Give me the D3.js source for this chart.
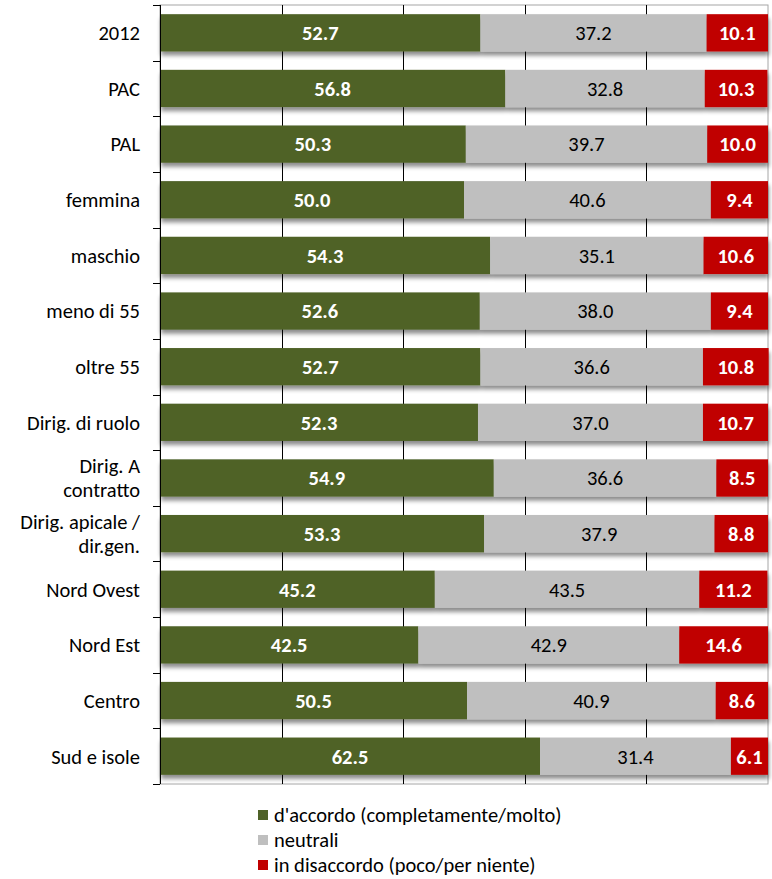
<!DOCTYPE html>
<html><head><meta charset="utf-8">
<script src="https://cdn.jsdelivr.net/npm/d3@7"></script>
<style>
body{margin:0;background:#fff;}
text{font-family:Carlito,Lato,"Open Sans",sans-serif;}
</style></head><body>
<svg id="c" width="772" height="879"></svg>
<script>
const categories = ["2012","PAC","PAL","femmina","maschio","meno di 55","oltre 55","Dirig. di ruolo","Dirig. A|contratto","Dirig. apicale /|dir.gen.","Nord Ovest","Nord Est","Centro","Sud e isole"];
const accordo   = [52.7,56.8,50.3,50.0,54.3,52.6,52.7,52.3,54.9,53.3,45.2,42.5,50.5,62.5];
const neutrali  = [37.2,32.8,39.7,40.6,35.1,38.0,36.6,37.0,36.6,37.9,43.5,42.9,40.9,31.4];
const disaccordo= [10.1,10.3,10.0,9.4,10.6,9.4,10.8,10.7,8.5,8.8,11.2,14.6,8.6,6.1];
const seriesNames = ["d'accordo (completamente/molto)","neutrali","in disaccordo (poco/per niente)"];
const colors = ["#4F6228","#BFBFBF","#C00000"];
const labelColors = ["#fff","#000","#fff"];
const labelWeights = ["bold","normal","bold"];
const xTicks = [0,20,40,60,80,100];

const svg = d3.select("#c");
const m = {l:160,r:4,t:5,b:95};
const W = 772, H = 879;
const FS = 20.5;
const x = d3.scaleLinear().domain([0,100]).range([m.l, W-m.r]);
const y = d3.scaleBand().domain(categories).range([m.t, H-m.b]).paddingInner(0.33).paddingOuter(0.165);

const defs = svg.append("defs");
const f = defs.append("filter").attr("id","sh").attr("x","-5%").attr("y","-30%").attr("width","110%").attr("height","180%");
f.append("feDropShadow").attr("dx",1).attr("dy",4).attr("stdDeviation",2.2).attr("flood-color","#000").attr("flood-opacity",0.45);

svg.append("rect").attr("x",m.l).attr("y",m.t).attr("width",W-m.r-m.l).attr("height",H-m.b-m.t)
  .attr("fill","none").attr("stroke","#A6A6A6").attr("stroke-width",1);
svg.append("g").selectAll("line").data(xTicks.slice(1,-1)).join("line")
  .attr("x1",d=>Math.round(x(d))+0.5).attr("x2",d=>Math.round(x(d))+0.5)
  .attr("y1",m.t).attr("y2",H-m.b).attr("stroke","#000").attr("stroke-width",1);

const data = categories.map((c,i)=>({cat:c, vals:[accordo[i],neutrali[i],disaccordo[i]]}));
const rows = svg.append("g").selectAll("g").data(data).join("g");
rows.each(function(d){
  const g = d3.select(this);
  const bars = g.append("g").attr("filter","url(#sh)");
  let acc = 0;
  d.vals.forEach((v,k)=>{
    const x0 = x(acc), x1 = x(acc+v);
    bars.append("rect").attr("x",x0).attr("y",y(d.cat)).attr("width",x1-x0).attr("height",y.bandwidth()).attr("fill",colors[k]);
    acc += v;
  });
  acc = 0;
  d.vals.forEach((v,k)=>{
    const x0 = x(acc), x1 = x(acc+v);
    g.append("text").attr("x",(x0+x1)/2).attr("y",y(d.cat)+y.bandwidth()/2).attr("dy","0.36em")
      .attr("text-anchor","middle").attr("font-size",FS).attr("font-weight",labelWeights[k])
      .attr("fill",labelColors[k]).text(v.toFixed(1));
    acc += v;
  });
});

const ax = svg.append("g");
ax.append("line").attr("x1",m.l+0.5).attr("x2",m.l+0.5).attr("y1",m.t).attr("y2",H-m.b).attr("stroke","#000");
const bounds = d3.range(categories.length+1).map(i=>m.t + i*(H-m.b-m.t)/categories.length);
ax.selectAll("line.t").data(bounds).join("line").attr("class","t")
  .attr("x1",m.l-7).attr("x2",m.l).attr("y1",d=>Math.round(d)+0.5).attr("y2",d=>Math.round(d)+0.5).attr("stroke","#000");
categories.forEach(c=>{
  const parts = c.split("|");
  const cy = y(c)+y.bandwidth()/2;
  const t = ax.append("text").attr("text-anchor","end").attr("font-size",FS).attr("fill","#000");
  parts.forEach((p,j)=>{
    t.append("tspan").attr("x",140).attr("y",cy + (j-(parts.length-1)/2)*24).attr("dy","0.36em").text(p);
  });
});

const lg = svg.append("g");
seriesNames.forEach((n,k)=>{
  const ly = 815 + k*25;
  lg.append("rect").attr("x",258).attr("y",ly-5).attr("width",10).attr("height",10).attr("fill",colors[k]);
  lg.append("text").attr("x",274).attr("y",ly).attr("dy","0.36em").attr("font-size",FS).attr("fill","#000").text(n);
});
</script></body></html>
